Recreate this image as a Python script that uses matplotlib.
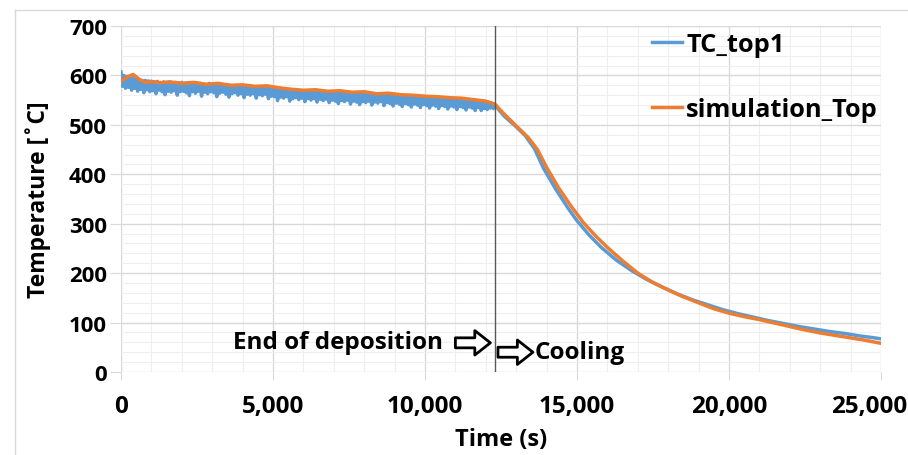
import numpy as np
import matplotlib
matplotlib.use("Agg")
from matplotlib import pyplot as plt
from matplotlib.lines import Line2D
from matplotlib.ticker import MultipleLocator, FuncFormatter
from matplotlib.transforms import ScaledTranslation

plt.rcParams['font.family'] = ['Open Sans', 'DejaVu Sans']
plt.rcParams['font.weight'] = 'bold'

# TC_top1 during deposition, sampled every 50 s from 0 s (noisy measurement)
tc_flat_step = 50
tc_flat = [607, 578, 600, 574, 598, 576, 596, 570, 595, 574, 593, 568, 592, 572, 590, 565, 590, 571, 589, 567,
           588, 569, 587, 563, 588, 570, 586, 567, 587, 561, 586, 568, 587, 566, 585, 569, 586, 560, 585, 567,
           586, 568, 584, 565, 585, 559, 584, 567, 583, 564, 585, 568, 584, 558, 583, 566, 582, 563, 584, 567,
           582, 565, 583, 557, 581, 564, 582, 566, 580, 562, 581, 556, 580, 563, 579, 565, 580, 560, 579, 563,
           578, 555, 579, 562, 577, 560, 578, 563, 576, 554, 577, 561, 576, 559, 575, 562, 576, 553, 575, 558,
           574, 557, 574, 549, 573, 556, 572, 554, 572, 557, 571, 548, 571, 553, 570, 555, 569, 551, 569, 554,
           568, 547, 568, 553, 567, 550, 568, 553, 567, 546, 567, 552, 566, 549, 567, 552, 566, 545, 566, 550,
           565, 548, 565, 543, 564, 549, 565, 547, 564, 550, 564, 542, 563, 548, 564, 546, 563, 541, 563, 547,
           562, 545, 562, 548, 561, 540, 562, 546, 561, 544, 561, 547, 560, 539, 560, 545, 560, 543, 559, 538,
           559, 544, 559, 542, 558, 537, 558, 543, 557, 541, 557, 536, 557, 542, 556, 540, 556, 535, 556, 541,
           555, 539, 555, 534, 554, 540, 554, 538, 553, 533, 553, 539, 553, 537, 552, 532, 552, 538, 552, 536,
           551, 531, 551, 537, 550, 535, 550, 530, 549, 536, 549, 534, 548, 529, 548, 535, 547, 529, 547, 533,
           546, 531, 545, 534, 544, 533]
# TC_top1 during cooling
tc_cool_t = [12300, 12600, 13000, 13300, 13600, 13900, 14300, 14700, 15000, 15400,
             15800, 16300, 16800, 17300, 17800, 18300, 18800, 19300, 19800, 20300,
             20800, 21300, 21800, 22300, 22800, 23300, 23800, 24300, 24800, 25000]
tc_cool = [540, 518, 496, 478, 452, 412, 370, 332, 306, 277,
           252, 226, 205, 187, 172, 158, 146, 136, 126, 118,
           111, 104, 98, 92, 87, 82, 78, 73, 69, 67]

# simulation_Top
sim_t = [0, 200, 400, 600, 800, 1000, 1300, 1600, 2000, 2400, 2800, 3200, 3600,
         4000, 4400, 4800, 5200, 5600, 6000, 6400, 6800, 7200, 7600, 8000, 8400,
         8800, 9200, 9600, 10000, 10400, 10800, 11200, 11600, 12000, 12300,
         12600, 13000, 13400, 13700, 14000, 14400, 14800, 15200, 15600, 16000,
         16500, 17000, 17500, 18000, 18500, 19000, 19500, 20000, 20500, 21000,
         21500, 22000, 22500, 23000, 23500, 24000, 24500, 25000]
sim_T = [588, 597, 602, 592, 586, 588, 585, 587, 584, 586, 582, 584, 580,
         581, 578, 579, 575, 572, 570, 571, 568, 569, 566, 567, 563,
         564, 561, 560, 558, 557, 555, 554, 551, 548, 542,
         522, 498, 474, 450, 414, 372, 336, 303, 276, 252,
         225, 200, 181, 166, 152, 140, 128, 119, 112, 106,
         99, 92, 85, 79, 74, 69, 64, 58]

end_of_deposition = 12300

tc_t = list(np.arange(len(tc_flat)) * tc_flat_step) + tc_cool_t
tc_T = tc_flat + tc_cool

blue = '#5B9BD5'
orange = '#ED7D31'

fig = plt.figure(figsize=(9.08, 4.56), dpi=100)
ax = fig.add_axes([121 / 908, 1 - 373 / 456, (881 - 121) / 908, (373 - 27) / 456])

# chart-area border (Excel style)
fig.add_artist(Line2D([15 / 908, 1], [1 - 11 / 456] * 2, color='#d9d9d9', lw=1))
fig.add_artist(Line2D([15 / 908] * 2, [0, 1 - 11 / 456], color='#d9d9d9', lw=1))

ax.plot(tc_t, tc_T, color=blue, lw=2.5, label='TC_top1', zorder=3)
ax.plot(sim_t, sim_T, color=orange, lw=2.5, label='simulation_Top', zorder=4)
ax.axvline(end_of_deposition, color='#595959', lw=1, zorder=5)

ax.set_xlim(0, 25000)
ax.set_ylim(0, 700)
ax.xaxis.set_major_locator(MultipleLocator(5000))
ax.xaxis.set_minor_locator(MultipleLocator(1000))
ax.yaxis.set_major_locator(MultipleLocator(100))
ax.yaxis.set_minor_locator(MultipleLocator(20))
ax.xaxis.set_major_formatter(FuncFormatter(lambda v, p: f'{int(v):,}'))
ax.grid(which='major', color='#d9d9d9', lw=1)
ax.grid(which='minor', color='#efefef', lw=0.8)
ax.set_axisbelow(True)
for s in ax.spines.values():
    s.set_visible(False)
ax.tick_params(axis='x', which='major', length=6, color='#d9d9d9', labelsize=17.5, pad=10)
ax.tick_params(axis='y', which='major', length=8, color='#d9d9d9', labelsize=16, pad=2)
ax.tick_params(which='minor', length=0)

ax.set_xlabel('Time (s)', fontsize=17, fontweight='bold', labelpad=6)
ax.set_ylabel('Temperature [˚C]', fontsize=16.5, fontweight='bold', labelpad=13)

ax.text(3700, 60, 'End of deposition', fontsize=17.5, fontweight='bold', va='center', ha='left')
arrow_style = dict(arrowstyle='simple,head_length=0.7,head_width=1.1,tail_width=0.45',
                   fc='white', ec='black', lw=2, mutation_scale=16, shrinkA=0, shrinkB=0)
ax.annotate('', xy=(12150, 59), xytext=(11000, 59), arrowprops=arrow_style)
ax.annotate('', xy=(13550, 40), xytext=(12400, 40), arrowprops=arrow_style)
ax.text(13600, 40, 'Cooling', fontsize=17.5, fontweight='bold', va='center', ha='left')

leg = ax.legend(loc='upper left', bbox_to_anchor=(0.675, 1.035), frameon=False,
                handlelength=1.2, handletextpad=0.15, labelspacing=1.6,
                borderpad=0.2, prop={'weight': 'bold', 'size': 18.3})

# Excel pulls the last x label inside the chart area
fig.canvas.draw()
for lab in ax.get_xticklabels():
    if lab.get_text() == '25,000':
        lab.set_horizontalalignment('right')
        lab.set_transform(lab.get_transform() + ScaledTranslation(0.26, 0, fig.dpi_scale_trans))

fig.savefig('out.png', dpi=100)
